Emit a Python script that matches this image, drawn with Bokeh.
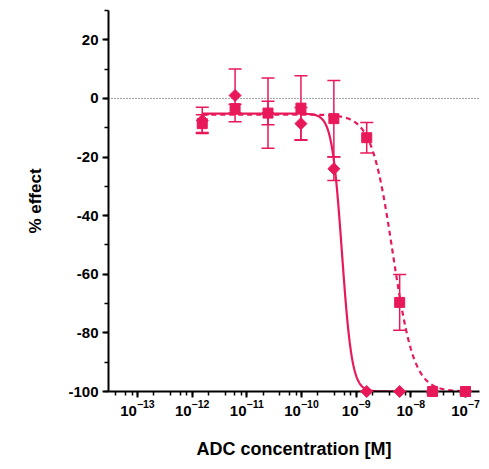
import numpy as np
from bokeh.plotting import figure
from bokeh.models import (ColumnDataSource, Whisker, TeeHead, SingleIntervalTicker,
                          LogTicker, Span, Range1d, PrintfTickFormatter)
from bokeh.embed import file_html
from bokeh.resources import INLINE

# ---- data ----
conc = [1.53e-12, 6.1e-12, 2.44e-11, 9.77e-11, 3.91e-10, 1.56e-9, 6.25e-9, 2.5e-8, 1e-7]

diamond_conc = conc[:7]
diamond_val = [-7.5, 1.0, -5.0, -8.6, -24.0, -100.0, -100.0]
diamond_err = [4.5, 9.0, 12.0, 5.5, 4.0, 0.0, 0.0]

square_conc = conc
square_val = [-8.6, -3.5, -5.0, -3.3, -6.9, -13.4, -69.6, -100.0, -100.0]
square_err = [3.0, 1.5, 4.0, 11.0, 13.0, 5.2, 9.5, 0.0, 0.0]

# 4PL fit parameters (top, bottom, logIC50, hill)
fit_diamond = (-5.2, -100.0, -9.26, 4.7)
fit_square = (-5.5, -100.0, -8.33, 2.24)

COLOR = "#E8195A"
FONT = "Liberation Sans"

p = figure(width=481, height=461, x_axis_type="log",
           x_range=Range1d(10 ** -13.53, 10 ** -6.744), y_range=Range1d(-100, 30),
           output_backend="svg", toolbar_location=None,
           min_border_left=108, min_border_right=2, min_border_top=10, min_border_bottom=69)
p.outline_line_color = None
p.xgrid.visible = False
p.ygrid.visible = False
p.background_fill_color = "white"
p.border_fill_color = "white"

# zero reference line
p.add_layout(Span(location=0, dimension="width", line_color="#444444",
                  line_dash="1 2", line_width=1))


def fourpl(params, lx):
    top, bottom, lc, h = params
    return bottom + (top - bottom) / (1 + 10 ** ((lx - lc) * h))


lx_d = np.linspace(np.log10(diamond_conc[0]), np.log10(diamond_conc[-1]), 400)
lx_s = np.linspace(np.log10(square_conc[0]), np.log10(square_conc[-1]), 400)
p.line(10 ** lx_d, fourpl(fit_diamond, lx_d), line_color=COLOR, line_width=2.2)
p.line(10 ** lx_s, fourpl(fit_square, lx_s), line_color=COLOR, line_width=2.2,
       line_dash="5 4")

# error bars
for cx, vals, errs in [(diamond_conc, diamond_val, diamond_err),
                       (square_conc, square_val, square_err)]:
    src = ColumnDataSource(dict(x=cx,
                                up=[v + e for v, e in zip(vals, errs)],
                                lo=[v - e for v, e in zip(vals, errs)]))
    w = Whisker(source=src, base="x", upper="up", lower="lo", dimension="height",
                line_color=COLOR, line_width=1.5, level="overlay",
                upper_head=TeeHead(size=13, line_color=COLOR, line_width=1.5),
                lower_head=TeeHead(size=13, line_color=COLOR, line_width=1.5))
    p.add_layout(w)

p.scatter(square_conc, square_val, marker="square", size=10, fill_color=COLOR,
          line_color=COLOR, level="overlay")
p.scatter(diamond_conc, diamond_val, marker="square", size=8.5, angle=np.pi / 4,
          fill_color=COLOR, line_color=COLOR, level="overlay")

# axes styling
for ax in (p.xaxis[0], p.yaxis[0]):
    ax.axis_line_width = 2
    ax.axis_line_color = "black"
    ax.major_tick_line_width = 2
    ax.major_tick_line_color = "black"
    ax.minor_tick_line_width = 1.5
    ax.minor_tick_line_color = "black"
    ax.major_tick_in = 0
    ax.major_tick_out = 6
    ax.minor_tick_in = 0
    ax.minor_tick_out = 4
    ax.major_label_text_font = FONT
    ax.major_label_text_font_style = "bold"
    ax.major_label_text_color = "black"
    ax.axis_label_text_font = FONT
    ax.axis_label_text_font_style = "bold"
    ax.axis_label_text_color = "black"

p.yaxis.ticker = SingleIntervalTicker(interval=20, num_minor_ticks=2)
p.yaxis.formatter = PrintfTickFormatter(format="%d")
p.yaxis.bounds = (-100, 30)
p.yaxis.major_label_text_font_size = "15px"
p.yaxis.axis_label = "% effect"
p.yaxis.axis_label_text_font_size = "17px"
p.yaxis.axis_label_standoff = 20
p.yaxis.major_label_standoff = 4

p.xaxis.ticker = LogTicker(num_minor_ticks=5, desired_num_ticks=8)
p.xaxis.major_label_text_font_size = "15px"
p.xaxis.axis_label = "ADC concentration [M]"
p.xaxis.axis_label_text_font_size = "18px"
p.xaxis.axis_label_standoff = 20
p.xaxis.major_label_standoff = 2

open("out.html", "w").write(file_html(p, INLINE))
